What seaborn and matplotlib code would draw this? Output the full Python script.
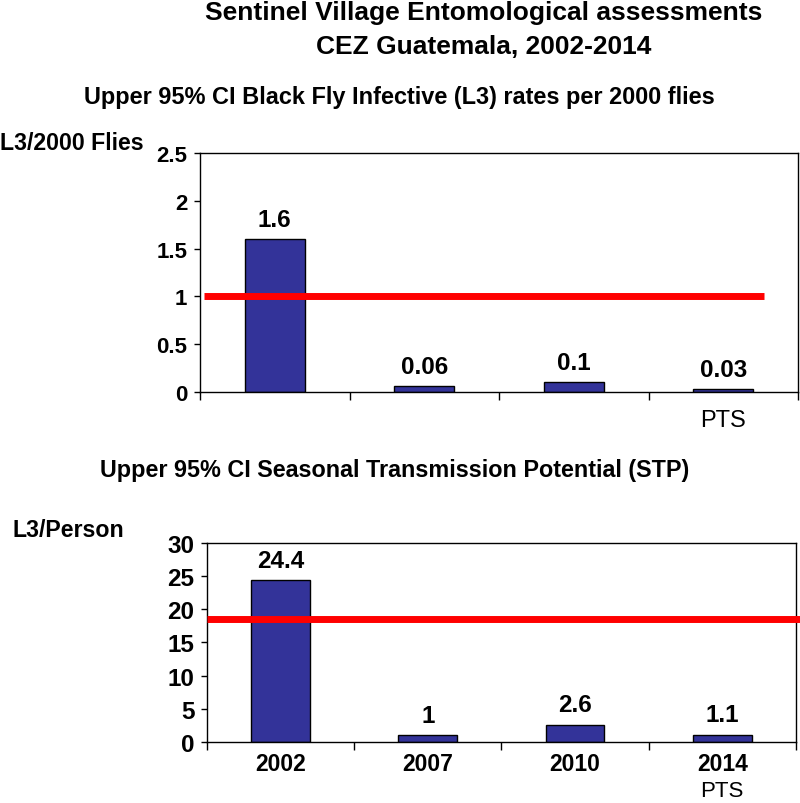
import matplotlib
matplotlib.use("Agg")
import matplotlib.pyplot as plt
from matplotlib.ticker import FuncFormatter, FixedLocator
import pandas as pd
import seaborn as sns

# Sentinel village entomology, two stacked bar panels with threshold lines.
years = ["2002", "2007", "2010", "2014"]
l3_rate = [1.6, 0.06, 0.1, 0.03]
stp = [24.4, 1, 2.6, 1.1]
l3_threshold = 1
stp_threshold = 18.5
rate_labels = ["1.6", "0.06", "0.1", "0.03"]
stp_labels = ["24.4", "1", "2.6", "1.1"]

sns.set_theme(style="white")
plt.rcParams["font.family"] = ["Liberation Sans", "DejaVu Sans"]
plt.rcParams["text.color"] = "black"
plt.rcParams["xtick.color"] = "black"
plt.rcParams["ytick.color"] = "black"

BAR = "#333399"

fig = plt.figure(figsize=(8, 8.04), dpi=100)
ax1 = fig.add_axes([0.25, 0.5112, 0.7475, 0.2973])
ax2 = fig.add_axes([0.2588, 0.0759, 0.736, 0.2475])

rate_df = pd.DataFrame({"year": years, "value": l3_rate})
stp_df = pd.DataFrame({"year": years, "value": stp})


def style_axis(ax, ymax, ystep, tick_size):
    ax.set_xlim(-0.5, len(years) - 0.5)
    ax.set_ylim(0, ymax)
    ax.set_yticks([i * ystep for i in range(int(round(ymax / ystep)) + 1)])
    ax.yaxis.set_major_formatter(FuncFormatter(lambda v, _: f"{v:g}"))
    ax.xaxis.set_minor_locator(FixedLocator([i - 0.5 for i in range(len(years) + 1)]))
    ax.tick_params(axis="x", which="minor", direction="out", length=6, width=1, color="black", bottom=True)
    ax.tick_params(axis="x", which="major", length=0)
    ax.tick_params(axis="y", direction="out", length=4, width=1, color="black", left=True,
                   labelsize=tick_size, pad=5, labelcolor="black")
    for lab in ax.get_yticklabels():
        lab.set_fontweight("bold")
    for s in ax.spines.values():
        s.set_visible(True)
        s.set_color("black")
        s.set_linewidth(1)
    ax.set_xlabel("")
    ax.set_ylabel("")


# top panel
sns.barplot(data=rate_df, x="year", y="value", ax=ax1, color=BAR, width=0.4,
            edgecolor="black", linewidth=1, saturation=1)
style_axis(ax1, 2.5, 0.5, 16)
ax1.set_xticklabels([""] * 3 + ["PTS"], fontsize=17)
ax1.tick_params(axis="x", which="major", pad=12)
ax1.bar_label(ax1.containers[0], labels=rate_labels, padding=6, fontsize=17.5, fontweight="bold")
ax1.plot([-0.47, 3.27], [l3_threshold, l3_threshold], color="#ff0000", lw=5, solid_capstyle="butt", zorder=5)

# bottom panel
sns.barplot(data=stp_df, x="year", y="value", ax=ax2, color=BAR, width=0.4,
            edgecolor="black", linewidth=1, saturation=1)
style_axis(ax2, 30, 5, 17.5)
ax2.set_xticklabels(years, fontsize=16.5, fontweight="bold")
ax2.tick_params(axis="x", which="major", pad=7)
ax2.bar_label(ax2.containers[0], labels=stp_labels, padding=6, fontsize=17.5, fontweight="bold")
ax2.plot([-0.5, 3.53], [stp_threshold, stp_threshold], color="#ff0000", lw=5,
         solid_capstyle="butt", zorder=5, clip_on=False)
ax2.text(3, -0.19, "PTS", transform=ax2.get_xaxis_transform(), ha="center", va="top", fontsize=16)

# titles and axis captions
fig.text(484 / 800, 1 - 13 / 804, "Sentinel Village Entomological assessments",
         ha="center", va="center", fontsize=19, fontweight="bold")
fig.text(484 / 800, 1 - 47 / 804, "CEZ Guatemala, 2002-2014",
         ha="center", va="center", fontsize=19, fontweight="bold")
fig.text(399 / 800, 1 - 98 / 804, "Upper 95% CI Black Fly Infective (L3) rates per 2000 flies",
         ha="center", va="center", fontsize=16.9, fontweight="bold")
fig.text(395 / 800, 1 - 471 / 804, "Upper 95% CI Seasonal Transmission Potential (STP)",
         ha="center", va="center", fontsize=16.8, fontweight="bold")
fig.text(0 / 800, 1 - 143 / 804, "L3/2000 Flies", ha="left", va="center", fontsize=16.7, fontweight="bold")
fig.text(12 / 800, 1 - 531 / 804, "L3/Person", ha="left", va="center", fontsize=16.7, fontweight="bold")

fig.savefig("out.png", dpi=100, facecolor="white")
